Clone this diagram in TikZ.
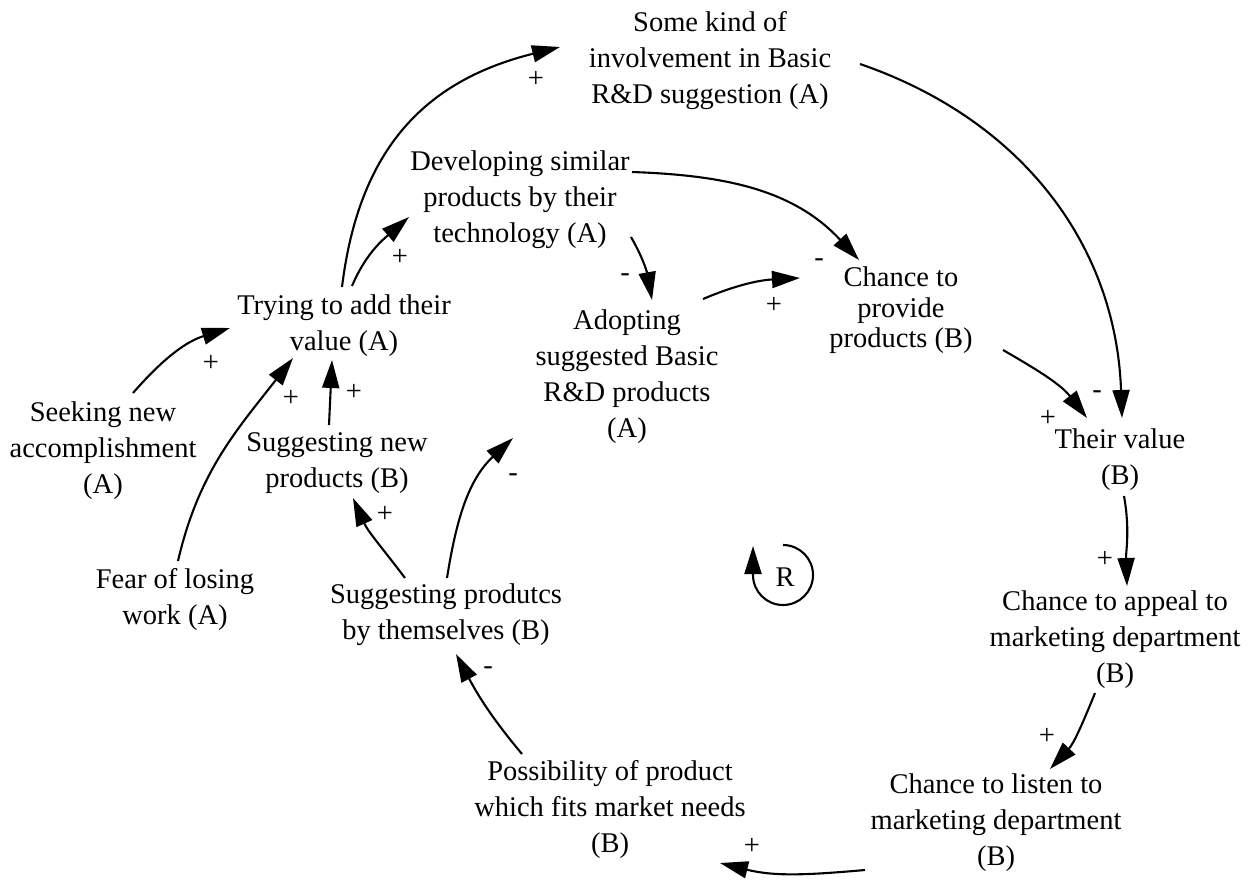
\documentclass[tikz,border=0pt]{standalone}
\usepackage{fontspec}
\setmainfont{Liberation Serif}
\usetikzlibrary{arrows.meta}
\begin{document}
\begin{tikzpicture}[x=1pt,y=1pt,
  var/.style={align=center, inner sep=0pt, font=\fontsize{28.5}{36}\selectfont},
  sign/.style={inner sep=0pt, font=\fontsize{28.5}{36}\selectfont},
  link/.style={line width=2.1pt, -{Triangle[length=28pt,width=17pt]}},
]
\useasboundingbox (0,0) rectangle (1257,-883);

% variables
\node[var] (some)   at (710,-60.5)  {Some kind of\\involvement in Basic\\R\&D suggestion (A)};
\node[var] (dev)    at (520,-200)   {Developing similar\\products by their\\technology (A)};
\node[var] (try)    at (344,-326)   {Trying to add their\\value (A)};
\node[var] (seek)   at (103,-451)   {Seeking new\\accomplishment\\(A)};
\node[var] (sugnew) at (337,-463)   {Suggesting new\\products (B)};
\node[var] (fear)   at (175,-599)   {Fear of losing\\work (A)};
\node[var] (sugby)  at (446,-615)   {Suggesting produtcs\\by themselves (B)};
\node[var] (adopt)  at (627,-376.5) {Adopting\\suggested Basic\\R\&D products\\(A)};
\node[var, font=\fontsize{28.5}{30.5}\selectfont] (chprov) at (901,-310.5) {Chance to\\provide\\products (B)};
\node[var] (their)  at (1120,-459.5) {Their value\\(B)};
\node[var] (chapp)  at (1115,-639.5) {Chance to appeal to\\marketing department\\(B)};
\node[var] (chlis)  at (996,-822.5) {Chance to listen to\\marketing department\\(B)};
\node[var] (poss)   at (610,-809)   {Possibility of product\\which fits market needs\\(B)};

% causal links
\draw[link] ([shift={(30,58)}]seek.center) to[out=49,in=197] ([shift={(-114,-2)}]try.center);
\draw[link] ([shift={(3,38)}]fear.center) to[out=77,in=232] ([shift={(-51,-32)}]try.center);
\draw[link] ([shift={(-8,38)}]sugnew.center) -- ([shift={(-12,-34)}]try.center);
\draw[link] ([shift={(-2,39)}]try.center) to[out=83,in=194,looseness=1.1] ([shift={(-150,13.5)}]some.center);
\draw[link] ([shift={(8,40)}]try.center) to[out=67,in=221] ([shift={(-111,-17)}]dev.center);
\draw[link] ([shift={(-41,37)}]sugby.center) to[out=127,in=294] ([shift={(16,-35)}]sugnew.center);
\draw[link] ([shift={(1,37)}]sugby.center) to[out=81,in=223] ([shift={(-114,-61.5)}]adopt.center);
\draw[link] ([shift={(111,-37)}]dev.center) to[out=-60,in=100] ([shift={(25,76.5)}]adopt.center);
\draw[link] ([shift={(76,77.5)}]adopt.center) to[out=23,in=183] ([shift={(-101,32.5)}]chprov.center);
\draw[link] ([shift={(112,28)}]dev.center) to[out=-2,in=133] ([shift={(-42,50.5)}]chprov.center);
\draw[link] ([shift={(150,-3.5)}]some.center) to[out=-19,in=92] ([shift={(2,41.5)}]their.center);
\draw[link] ([shift={(102,-39.5)}]chprov.center) to[out=-30,in=128] ([shift={(-33,41.5)}]their.center);
\draw[link] ([shift={(4,-36.5)}]their.center) to[out=-80,in=92] ([shift={(12,53.5)}]chapp.center);
\draw[link] ([shift={(-20,-53.5)}]chapp.center) to[out=-112,in=47] ([shift={(54,53.5)}]chlis.center);
\draw[link] ([shift={(-131,-47.5)}]chlis.center) to[out=185,in=346] ([shift={(110,-54)}]poss.center);
\draw[link] ([shift={(-88,55)}]poss.center) to[out=130,in=298] ([shift={(10,-39)}]sugby.center);

% polarities
\node[sign] (p1)  at (211,-363)  {+};
\node[sign] (p2)  at (291,-398)  {+};
\node[sign] (p3)  at (354,-392)  {+};
\node[sign] (p4)  at (536,-79)   {+};
\node[sign] (p5)  at (400,-257)  {+};
\node[sign] (p6)  at (385,-514)  {+};
\node[sign] (p7)  at (513,-478)  {-};
\node[sign] (p8)  at (625,-278)  {-};
\node[sign] (p9)  at (774,-305)  {+};
\node[sign] (p10) at (819,-263)  {-};
\node[sign] (p11) at (1097,-395) {-};
\node[sign] (p12) at (1048,-418) {+};
\node[sign] (p13) at (1105,-559) {+};
\node[sign] (p14) at (1047,-736) {+};
\node[sign] (p15) at (752,-846)  {+};
\node[sign] (p16) at (488,-671)  {-};

% reinforcing loop marker
\node[sign] (loopR) at (785,-577) {R};
\draw[link] ([shift={(-2,32)}]loopR.center) arc[start angle=90,end angle=-180,radius=30] -- ++(0,29);
\end{tikzpicture}
\end{document}
